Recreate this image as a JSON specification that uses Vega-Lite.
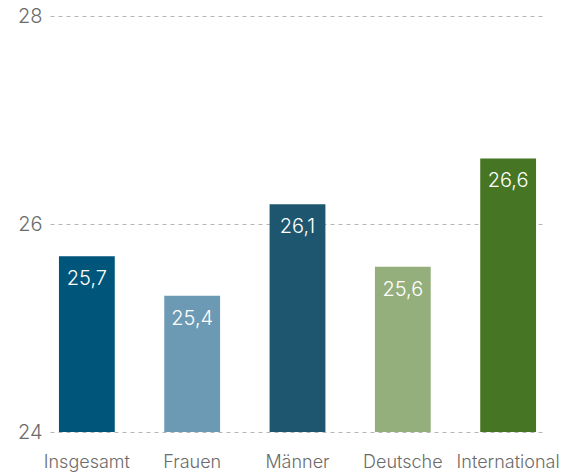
{
  "$schema": "https://vega.github.io/schema/vega-lite/v6.json",
  "autosize": "none",
  "width": 495,
  "height": 416,
  "padding": {"left": 50, "top": 16, "right": 34, "bottom": 41},
  "background": "white",
  "config": {"view": {"stroke": null}, "font": "Inter"},
  "data": {"values": [
    {"gruppe": "Insgesamt", "wert": 25.69, "label": "25,7", "farbe": "#00557A"},
    {"gruppe": "Frauen", "wert": 25.31, "label": "25,4", "farbe": "#6C9AB5"},
    {"gruppe": "Männer", "wert": 26.19, "label": "26,1", "farbe": "#1F566F"},
    {"gruppe": "Deutsche", "wert": 25.59, "label": "25,6", "farbe": "#95AF7C"},
    {"gruppe": "International", "wert": 26.63, "label": "26,6", "farbe": "#467623"}
  ]},
  "encoding": {
    "x": {"field": "gruppe", "type": "nominal", "sort": null,
      "scale": {"paddingInner": 0.47, "paddingOuter": 0.085},
      "axis": {"title": null, "labelAngle": 0, "ticks": false, "domain": false, "labelFontSize": 18, "labelColor": "#6b6b6b", "labelPadding": 35, "labelBaseline": "alphabetic", "labelFont": "Inter", "labelFontWeight": 300}},
    "y": {"field": "wert", "type": "quantitative",
      "scale": {"domain": [24, 28], "zero": false, "nice": false},
      "axis": {"title": null, "values": [24, 26, 28], "ticks": false, "domain": false, "labelFontSize": 20, "labelColor": "#6b6b6b", "labelPadding": 8, "labelFont": "Inter", "labelFontWeight": 300, "grid": true, "gridDash": [4, 4], "gridColor": "#b5b5b5", "gridWidth": 1}}
  },
  "layer": [
    {"mark": {"type": "bar", "clip": true}, "encoding": {"color": {"field": "farbe", "type": "nominal", "scale": null}}},
    {"mark": {"type": "text", "color": "white", "baseline": "middle", "dy": 23, "fontSize": 20, "font": "Inter", "fontWeight": 300}, "encoding": {"text": {"field": "label"}}}
  ]
}
